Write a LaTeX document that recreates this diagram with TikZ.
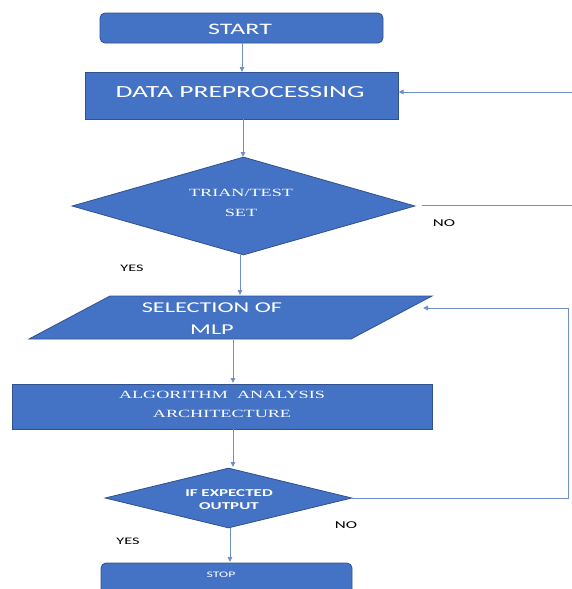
\documentclass[tikz,border=0pt]{standalone}
\usepackage{fontspec}
\setmainfont[FakeStretch=1.62]{Carlito}
\newfontfamily\serifc[FakeStretch=1.65]{Liberation Serif}
\usetikzlibrary{shapes.geometric,arrows.meta}
\definecolor{fillb}{HTML}{4472C4}
\definecolor{edgeb}{HTML}{2F528F}
\definecolor{linkb}{HTML}{6F8FC8}
\tikzset{
  blk/.style={draw=edgeb, fill=fillb, line width=0.8pt, inner sep=0pt, text=white},
  rblk/.style={blk, rounded corners=5pt},
  dia/.style={blk, shape=diamond},
  txt/.style={text=white, align=center, inner sep=0pt},
  lbl/.style={font=\fontsize{10}{11}\selectfont, inner sep=0pt},
  arr/.style={draw=linkb, line width=0.9pt, -{Triangle[length=5pt,width=4.5pt]}},
  ln/.style={draw=linkb, line width=0.9pt}
}
\begin{document}
\begin{tikzpicture}[x=1pt,y=-1pt]
\useasboundingbox (0,0) rectangle (572,589);
% START
\node[rblk, minimum width=283pt, minimum height=30pt] (start) at (241.5,28) {};
\node[txt, font=\fontsize{16}{17}\selectfont] (starttxt) at (240,29) {START};
% DATA PREPROCESSING
\node[blk, minimum width=313pt, minimum height=47pt] (dp) at (241.5,95.5) {};
\node[txt, font=\fontsize{17}{18}\selectfont] (dptxt) at (240,92) {DATA PREPROCESSING};
% diamond 1
\node[dia, minimum width=343pt, minimum height=98pt, aspect=3.5] (d1) at (243.5,206) {};
\node[txt, font=\serifc\fontsize{11}{20}\selectfont] (d1txt) at (241,203) {TRIAN/TEST\\SET};
% parallelogram
\draw[blk] (110,296) -- (432,296) -- (351,339) -- (29,339) -- cycle;
\node[minimum width=403pt, minimum height=43pt, inner sep=0pt] (sel) at (230.5,317.5) {};
\node[txt, font=\fontsize{15}{22}\selectfont] (seltxt) at (212,319) {SELECTION OF\\MLP};
% algorithm box
\node[blk, minimum width=420pt, minimum height=45pt] (alg) at (222,406.5) {};
\node[txt, font=\serifc\fontsize{11}{19}\selectfont] (algtxt) at (222,404.5) {ALGORITHM\ \ ANALYSIS\\ARCHITECTURE};
% diamond 2
\node[dia, minimum width=247pt, minimum height=60pt, aspect=4.1] (d2) at (228.5,498) {};
\node[txt, font=\bfseries\fontsize{10.5}{13}\selectfont] (d2txt) at (229,499.5) {IF EXPECTED\\OUTPUT};
% STOP
\node[rblk, minimum width=251pt, minimum height=50pt] (stop) at (226.5,588) {};
\node[txt, font=\fontsize{8.5}{10}\selectfont] (stoptxt) at (221,575) {STOP};
% labels
\node[lbl, font=\fontsize{10.5}{11}\selectfont] (no1) at (444,223) {NO};
\node[lbl] (yes1) at (132,268) {YES};
\node[lbl, font=\fontsize{10.5}{11}\selectfont] (no2) at (346,525) {NO};
\node[lbl] (yes2) at (128,541) {YES};
% coordinates
\coordinate (c1) at (422,205);
\coordinate (c2) at (578,205);
\coordinate (c3) at (578,92);
\coordinate (c4) at (568,498);
\coordinate (c5) at (568,308);
\coordinate (c6) at (423,308);
% connectors
\draw[arr] (242,43) -- (242,72);
\draw[arr] (243,119) -- (243,157);
\draw[arr] (240,255) -- (240,295);
\draw[arr] (233,340) -- (233,383);
\draw[arr] (233,429) -- (233,467);
\draw[arr] (230,528) -- (230,562);
\draw[ln] (c1) -- (c2) -- (c3);
\draw[arr] (c3) -- (398.5,92);
\draw[ln] (d2.east) -- (c4) -- (c5);
\draw[arr] (c5) -- (c6);
\end{tikzpicture}
\end{document}
